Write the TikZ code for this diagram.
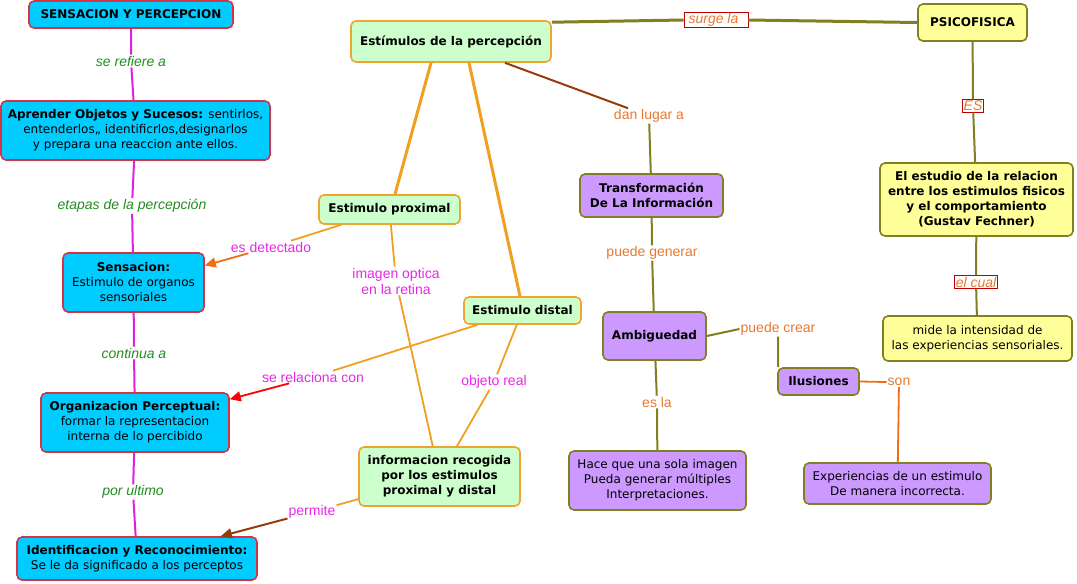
\documentclass[tikz,border=0pt]{standalone}
\usepackage{fontspec}
\setmainfont{DejaVu Sans}
\newfontfamily\labfont{Liberation Sans}
\usetikzlibrary{arrows.meta}
\definecolor{cyanfill}{RGB}{0,204,255}
\definecolor{redborder}{RGB}{214,50,70}
\definecolor{greenfill}{RGB}{204,255,204}
\definecolor{orangeborder}{RGB}{240,164,48}
\definecolor{purplefill}{RGB}{204,153,255}
\definecolor{oliveline}{RGB}{128,128,32}
\definecolor{yellowfill}{RGB}{255,255,153}
\definecolor{magline}{RGB}{224,32,224}
\definecolor{maglab}{RGB}{230,40,230}
\definecolor{greenlab}{RGB}{34,139,34}
\definecolor{orangelab}{RGB}{232,120,48}
\definecolor{orangeline}{RGB}{240,160,32}
\definecolor{brownline}{RGB}{150,60,10}
\definecolor{arroworange}{RGB}{240,110,20}
\begin{document}
\begin{tikzpicture}[x=1pt,y=-1pt,
  box/.style={rounded corners=5pt, line width=1.6pt, align=center, inner sep=3pt,
    font=\fontsize{12}{15}\selectfont},
  bf/.style={font=\fontsize{12}{15}\selectfont\bfseries},
  bluebox/.style={box, fill=cyanfill, draw=redborder},
  greenbox/.style={box, fill=greenfill, draw=orangeborder},
  purplebox/.style={box, fill=purplefill, draw=oliveline},
  yellowbox/.style={box, fill=yellowfill, draw=oliveline},
  lab/.style={inner sep=1pt, align=center, font=\labfont\fontsize{14}{16}\selectfont},
  glab/.style={lab, text=greenlab, font=\labfont\itshape\fontsize{14}{16}\selectfont},
  mlab/.style={lab, text=maglab},
  olab/.style={lab, text=orangelab},
  rlab/.style={lab, text=orangelab, font=\labfont\itshape\fontsize{14}{16}\selectfont,
    draw=red!75!black, fill=white, line width=0.8pt, inner sep=1.2pt},
  mline/.style={draw=magline, line width=2pt},
  oline/.style={draw=orangeline, line width=1.8pt},
  othick/.style={draw=orangeline, line width=3pt},
  olv/.style={draw=oliveline, line width=2pt},
  tip/.style={-{Triangle[length=11pt,width=10pt]}}
]
\useasboundingbox (0,0) rectangle (1077,584);

% blue nodes
\node[bluebox, bf, minimum width=204, minimum height=27] (sp) at (131,14.5) {SENSACION Y PERCEPCION};
\node[bluebox, minimum width=269, minimum height=59] (apr) at (135.5,130.5) {\textbf{Aprender Objetos y Sucesos:} sentirlos,\\ entenderlos,, identificrlos,designarlos\\ y prepara una reaccion ante ellos.};
\node[bluebox, minimum width=141, minimum height=59] (sen) at (133.5,282.5) {\textbf{Sensacion:}\\Estimulo de organos\\sensoriales};
\node[bluebox, minimum width=188, minimum height=59] (org) at (135,422.5) {\textbf{Organizacion Perceptual:}\\formar la representacion\\interna de lo percibido};
\node[bluebox, minimum width=240, minimum height=43] (idr) at (137,558.5) {\textbf{Identificacion y Reconocimiento:}\\Se le da significado a los perceptos};

% green nodes
\node[greenbox, bf, minimum width=200, minimum height=41] (est) at (451,41.5) {Estímulos de la percepción};
\node[greenbox, bf, minimum width=141, minimum height=29] (prox) at (389.5,209.5) {Estimulo proximal};
\node[greenbox, bf, minimum width=117, minimum height=27] (dist) at (522.5,310.5) {Estimulo distal};
\node[greenbox, bf, minimum width=161, minimum height=59] (info) at (439.5,476.5) {informacion recogida\\por los estimulos\\proximal y distal};

% purple nodes
\node[purplebox, bf, minimum width=143, minimum height=43] (tra) at (651.5,195.5) {Transformación\\De La Información};
\node[purplebox, bf, minimum width=103, minimum height=48] (amb) at (654.5,336) {Ambiguedad};
\node[purplebox, minimum width=177, minimum height=59] (hace) at (657.5,480.5) {Hace que una sola imagen\\Pueda generar múltiples\\Interpretaciones.};
\node[purplebox, bf, minimum width=81, minimum height=27] (ilu) at (818.5,381.5) {Ilusiones};
\node[purplebox, minimum width=187, minimum height=41] (exp) at (897.5,483.5) {Experiencias de un estimulo\\De manera incorrecta.};

% yellow nodes
\node[yellowbox, bf, minimum width=109, minimum height=37] (psi) at (972.5,22.5) {PSICOFISICA};
\node[yellowbox, bf, minimum width=193, minimum height=73] (estu) at (976.5,199.5) {El estudio de la relacion\\entre los estimulos fisicos\\y el comportamiento\\(Gustav Fechner)};
\node[yellowbox, minimum width=189, minimum height=45] (mide) at (977.5,338.5) {mide la intensidad de\\las experiencias sensoriales.};

% labels
\node[glab] (l1) at (131,61) {se refiere a};
\node[glab] (l2) at (132,206) {etapas de la percepción};
\node[glab] (l3) at (134,353) {continua a};
\node[glab] (l4) at (133,492) {por ultimo};
\node[mlab] (l5) at (271,247) {es detectado};
\node[mlab] (l6) at (396,281) {imagen optica\\en la retina};
\node[mlab] (l7) at (313,377) {se relaciona con};
\node[mlab] (l8) at (494,382) {objeto real};
\node[mlab] (l9) at (312,512) {permite};
\node[rlab, minimum width=64] (l10) at (716,20) {surge la\hspace{5pt}};
\node[olab] (l11) at (649,116) {dan lugar a};
\node[olab] (l12) at (652,253) {puede generar};
\node[olab] (l13) at (778,329) {puede crear};
\node[olab] (l14) at (657,402) {es la};
\node[olab] (l15) at (899,382) {son};
\node[rlab] (l16) at (973,106) {ES};
\node[rlab] (l17) at (976,282) {el cual};

% left column
\draw[mline] (sp) -- (l1) -- (apr);
\draw[mline] (apr) -- (l2) -- (sen);
\draw[mline] (sen) -- (l3) -- (org);
\draw[mline] (org) -- (l4) -- (idr);

% estimulos
\draw[othick] ([xshift=-20pt]est.south) -- ([xshift=5.5pt]prox.north);
\draw[othick] ([xshift=18pt]est.south) -- ([xshift=-2.5pt]dist.north);
\draw[draw=brownline, line width=2pt] ([xshift=54pt]est.south) -- (l11);
\draw[olv] (l11) -- (tra);
\draw[draw=oliveline, line width=3pt] ([yshift=-2pt]est.north east) -- (l10.west);
\draw[draw=oliveline, line width=3pt] (l10.east) -- (psi.west);

\draw[oline] (prox) -- (l5);
\draw[oline, draw=arroworange, tip] (l5) -- ([yshift=17pt]sen.east);
\draw[oline] (prox) -- (l6) -- (info);
\draw[oline] (dist) -- (l7);
\draw[draw=red, line width=1.8pt, tip] (l7) -- ([yshift=-7pt]org.north east);
\draw[oline] (dist) -- (l8) -- (info);
\draw[oline] (info) -- (l9);
\draw[draw=brownline, line width=2pt, tip] (l9) -- ([xshift=-37pt]idr.north east);

% purple branch
\draw[olv] (tra) -- (l12) -- (amb);
\draw[olv] (amb) -- (l14) -- (hace);
\draw[olv] (amb.east) -- (l13.west);
\draw[olv] (l13) -- ([xshift=1pt]ilu.north west);
\draw[draw=arroworange, line width=1.8pt] (ilu.east) -- (l15.west);
\draw[draw=arroworange, line width=1.8pt] (l15) -- (exp);

% yellow branch
\draw[olv] (psi) -- (l16) -- (estu);
\draw[olv] (estu) -- (l17) -- (mide);
\end{tikzpicture}
\end{document}
